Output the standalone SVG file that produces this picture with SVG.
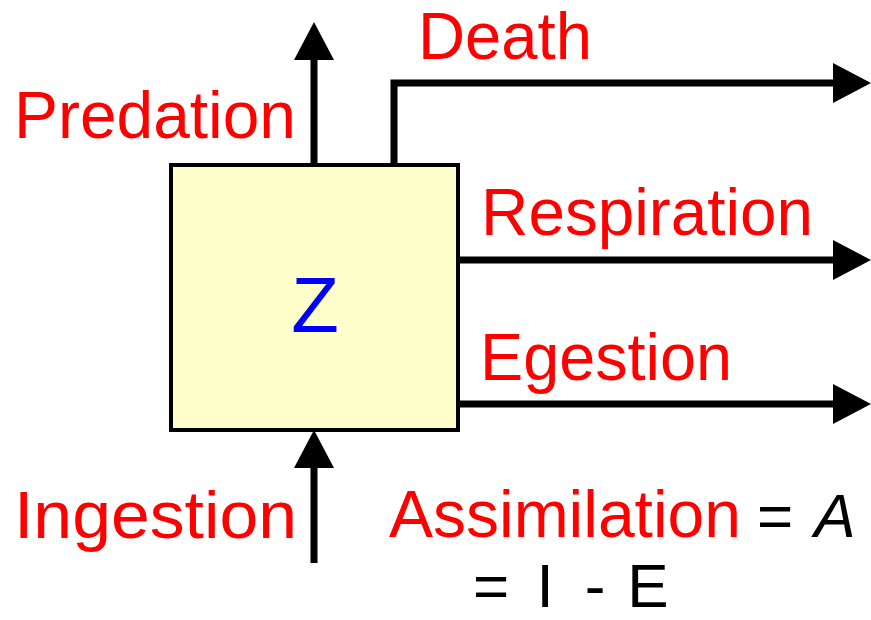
<svg xmlns="http://www.w3.org/2000/svg" width="871" height="620" viewBox="0 0 871 620">
  <style>
    .lbl { font-family: "Comic Sans MS", "Liberation Sans", "DejaVu Sans", sans-serif; fill: #FF0000; font-size: 66px; }
    .blk { font-family: "Comic Sans MS", "Liberation Sans", "DejaVu Sans", sans-serif; fill: #000000; font-size: 62px; text-anchor: middle; }
    .conn { fill: none; stroke: #000000; stroke-width: 7; }
  </style>
  <defs>
    <marker id="arrow" markerUnits="userSpaceOnUse" viewBox="0 0 38 40" markerWidth="38" markerHeight="40" refX="0" refY="20" orient="auto">
      <path d="M0,0 L38,20 L0,40 Z" fill="#000000"/>
    </marker>
  </defs>
  <rect width="871" height="620" fill="#FFFFFF"/>

  <g id="connectors">
    <path class="conn" d="M314,165 V60" marker-end="url(#arrow)"/>
    <path class="conn" d="M394,165 V83 H833" marker-end="url(#arrow)"/>
    <path class="conn" d="M458,260 H833" marker-end="url(#arrow)"/>
    <path class="conn" d="M458,404 H833" marker-end="url(#arrow)"/>
    <path class="conn" d="M314,563 V468" marker-end="url(#arrow)"/>
  </g>

  <g id="node-Z">
    <rect x="171" y="165" width="287" height="265" fill="#FFFFCC" stroke="#000000" stroke-width="4"/>
    <text x="315" y="332" text-anchor="middle" font-family="Comic Sans MS, Liberation Sans, DejaVu Sans, sans-serif" font-size="78" fill="#0000FF">Z</text>
  </g>

  <g id="labels">
    <text class="lbl" x="14" y="138" textLength="282" lengthAdjust="spacingAndGlyphs">Predation</text>
    <text class="lbl" x="418" y="59" font-size="60" textLength="174" lengthAdjust="spacingAndGlyphs">Death</text>
    <text class="lbl" x="481" y="235" textLength="332" lengthAdjust="spacingAndGlyphs">Respiration</text>
    <text class="lbl" x="480" y="380" textLength="252" lengthAdjust="spacingAndGlyphs">Egestion</text>
    <text class="lbl" x="14" y="538" textLength="283" lengthAdjust="spacingAndGlyphs">Ingestion</text>
    <text class="lbl" x="389" y="537" font-size="62" textLength="352" lengthAdjust="spacingAndGlyphs">Assimilation</text>
    <text class="blk" x="775" y="537">=</text>
    <text class="blk" x="835" y="537" font-style="italic">A</text>
    <text class="blk" x="491" y="607" font-size="58">=</text>
    <text class="blk" x="545" y="607" font-size="58">I</text>
    <text class="blk" x="595" y="607" font-size="58">-</text>
    <text class="blk" x="648" y="607" font-size="58">E</text>
  </g>
</svg>
